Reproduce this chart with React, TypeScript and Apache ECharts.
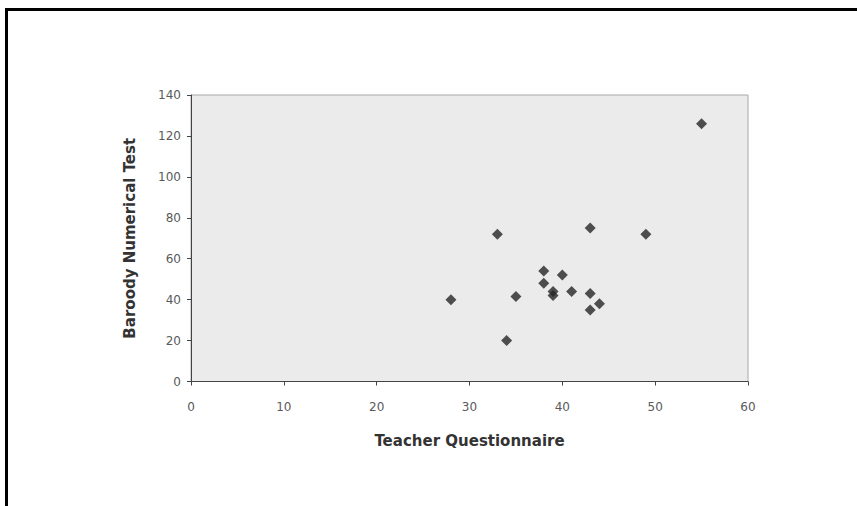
import React, { useEffect, useRef } from "react";
import * as echarts from "echarts";

const teacherQuestionnaire = [33, 43, 49, 38, 40, 38, 39, 39, 41, 43, 28, 35, 44, 43, 34, 55];
const baroodyNumerical = [72, 75, 72, 54, 52, 48, 42, 44, 44, 43, 40, 41.5, 38, 35, 20, 126];
const xTicks = [0, 10, 20, 30, 40, 50, 60];
const yTicks = [0, 20, 40, 60, 80, 100, 120, 140];
const xAxisTitle = "Teacher Questionnaire";
const yAxisTitle = "Baroody Numerical Test";

export default function App() {
  const ref = useRef<HTMLDivElement>(null);
  useEffect(() => {
    if (!ref.current) return;
    const chart = echarts.init(ref.current, null, { renderer: "svg" });
    const points = teacherQuestionnaire.map((x, i) => [x, baroodyNumerical[i]]);
    chart.setOption({
      animation: false,
      backgroundColor: "#ffffff",
      grid: {
        left: 191,
        right: 109,
        top: 95,
        bottom: 124.5,
        show: true,
        backgroundColor: "#ebebeb",
        borderColor: "#a8a8a8",
        borderWidth: 1,
      },
      xAxis: {
        type: "value",
        min: xTicks[0],
        max: xTicks[xTicks.length - 1],
        interval: 10,
        name: xAxisTitle,
        nameLocation: "middle",
        nameGap: 52,
        nameTextStyle: { fontFamily: "DejaVu Sans", fontWeight: "bold", fontSize: 15, color: "#333" },
        axisLine: { show: true, onZero: false, lineStyle: { color: "#444", width: 1 } },
        axisTick: { show: true, length: 4, lineStyle: { color: "#444" } },
        axisLabel: { margin: 19, fontFamily: "DejaVu Sans", fontSize: 12, color: "#5a5a5a" },
        splitLine: { show: false },
      },
      yAxis: {
        type: "value",
        min: yTicks[0],
        max: yTicks[yTicks.length - 1],
        interval: 20,
        name: yAxisTitle,
        nameLocation: "middle",
        nameGap: 54,
        nameTextStyle: { fontFamily: "DejaVu Sans", fontWeight: "bold", fontSize: 15, color: "#333" },
        axisLine: { show: true, onZero: false, lineStyle: { color: "#444", width: 1 } },
        axisTick: { show: true, length: 4, lineStyle: { color: "#444" } },
        axisLabel: { margin: 10, fontFamily: "DejaVu Sans", fontSize: 12, color: "#5a5a5a" },
        splitLine: { show: false },
      },
      series: [
        {
          type: "scatter",
          data: points,
          symbol: "diamond",
          symbolSize: 11,
          itemStyle: { color: "#262626" },
        },
      ],
      graphic: [
        { type: "rect", shape: { x: 5, y: 8, width: 852, height: 3 }, style: { fill: "#000" } },
        { type: "rect", shape: { x: 5, y: 8, width: 3, height: 498 }, style: { fill: "#000" } },
      ],
    });
    return () => chart.dispose();
  }, []);
  return (
    <div
      ref={ref}
      style={{ position: "fixed", left: 0, top: 0, width: 857, height: 506 }}
    />
  );
}
